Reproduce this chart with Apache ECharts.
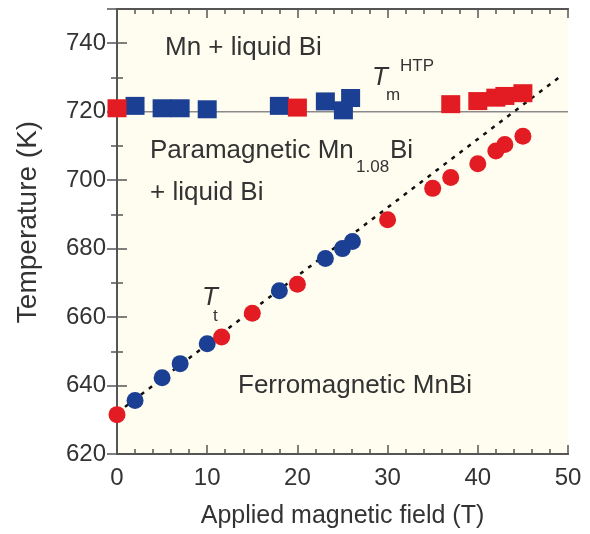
<!DOCTYPE html>
<html>
<head>
<meta charset="utf-8">
<script src="https://cdn.jsdelivr.net/npm/echarts@6/dist/echarts.min.js"></script>
<style>
  html, body { margin: 0; padding: 0; background: #ffffff; }
  #chart { width: 590px; height: 534px; }
</style>
</head>
<body>
<div id="chart"></div>
<script>
// Melting temperature T_m^HTP (squares) and transition temperature T_t (circles)
// of MnBi versus applied magnetic field; two colours mark the two measurement runs.
const squaresBlue = [[2, 721.7], [5, 721.0], [7, 721.0], [10, 720.7], [18, 721.7], [23.1, 723.0], [25.9, 724.0], [25.1, 720.4]];
const squaresRed = [[0, 721.0], [20, 721.2], [37, 722.2], [40, 723.1], [42, 724.1], [43, 724.6], [45, 725.4]];
const circlesBlue = [[2, 635.6], [5, 642.3], [7, 646.4], [10, 652.2], [18, 667.7], [23.1, 677.1], [25, 680.0], [26.1, 682.1]];
const circlesRed = [[0, 631.5], [11.6, 654.2], [15, 661.1], [20, 669.6], [30, 688.4], [35, 697.6], [37, 700.8], [40, 704.8], [42, 708.5], [43, 710.4], [45, 712.8]];
const meltLine = [[0, 720], [50, 720]];
const transitionGuide = [[0, 632], [49, 730]];

const xTicks = [0, 10, 20, 30, 40, 50];
const yTicks = [620, 640, 660, 680, 700, 720, 740];

const BLUE = '#1b3f92';
const RED = '#e31b23';
const FRAME = '#555555';
const TEXT = '#333333';
const FONT = 'Liberation Sans, Arial, Helvetica, sans-serif';

const chart = echarts.init(document.getElementById('chart'), null, { renderer: 'canvas' });

function xAxisDef(pos, step, len, labels) {
  return {
    type: 'value', position: pos, min: 0, max: 50, interval: step,
    axisLine: { show: true, lineStyle: { color: FRAME, width: 2 } },
    axisTick: { show: true, inside: true, length: len, lineStyle: { color: FRAME, width: 1.5 } },
    axisLabel: labels ? {
      show: true, fontSize: 24, color: TEXT, fontFamily: FONT, margin: 12,
      formatter: v => (xTicks.includes(v) ? String(v) : '')
    } : { show: false },
    splitLine: { show: false },
    name: labels ? 'Applied magnetic field (T)' : '',
    nameLocation: 'middle', nameGap: 50,
    nameTextStyle: { fontSize: 25, color: TEXT, fontFamily: FONT }
  };
}
function yAxisDef(pos, step, len, labels) {
  return {
    type: 'value', position: pos, min: 620, max: 750, interval: step,
    axisLine: { show: true, lineStyle: { color: FRAME, width: 2 } },
    axisTick: { show: true, inside: true, length: len, lineStyle: { color: FRAME, width: 1.5 } },
    axisLabel: labels ? {
      show: true, fontSize: 24, color: TEXT, fontFamily: FONT, margin: 11,
      formatter: v => (yTicks.includes(v) ? String(v) : '')
    } : { show: false },
    splitLine: { show: false }
  };
}

const grid = { left: 117, right: 22, top: 9, bottom: 76, show: true, backgroundColor: '#fffdf0', borderWidth: 0 };

function txt(x, y, s, size, italic) {
  return {
    type: 'text', x: x, y: y, z: 100,
    style: {
      text: s, fill: TEXT, fontSize: size, fontFamily: FONT,
      fontStyle: italic ? 'italic' : 'normal',
      align: 'left', verticalAlign: 'middle'
    }
  };
}

const option = {
  animation: false,
  backgroundColor: '#ffffff',
  grid: grid,
  xAxis: [
    xAxisDef('bottom', 10, 9, true),
    xAxisDef('bottom', 2, 5, false),
    xAxisDef('top', 10, 9, false),
    xAxisDef('top', 2, 5, false)
  ],
  yAxis: [
    yAxisDef('left', 20, 10, true),
    yAxisDef('left', 10, 6, false),
    yAxisDef('right', 20, 10, false),
    yAxisDef('right', 10, 6, false)
  ],
  series: [
    {
      type: 'line', data: meltLine, symbol: 'none', silent: true, z: 1,
      lineStyle: { color: '#8a8a8a', width: 1.5 }
    },
    {
      type: 'line', data: transitionGuide, symbol: 'none', silent: true, z: 1,
      lineStyle: { color: '#111111', width: 2.5, type: [4, 6] }
    },
    { type: 'scatter', data: squaresBlue, symbol: 'rect', symbolSize: [19, 18], itemStyle: { color: BLUE, opacity: 1 }, z: 3 },
    { type: 'scatter', data: squaresRed, symbol: 'rect', symbolSize: [19, 18], itemStyle: { color: RED, opacity: 1 }, z: 3 },
    { type: 'scatter', data: circlesBlue, symbol: 'circle', symbolSize: 17, itemStyle: { color: BLUE, opacity: 1 }, z: 3 },
    { type: 'scatter', data: circlesRed, symbol: 'circle', symbolSize: 17, itemStyle: { color: RED, opacity: 1 }, z: 3 }
  ],
  graphic: [
    {
      type: 'text', x: 28, y: 222, rotation: Math.PI / 2, z: 100,
      style: {
        text: 'Temperature (K)', fill: TEXT, fontSize: 28, fontFamily: FONT,
        align: 'center', verticalAlign: 'middle'
      }
    },
    txt(165, 48, 'Mn + liquid Bi', 26),
    txt(372, 78, 'T', 26, true),
    txt(386, 95, 'm', 17),
    txt(400, 66, 'HTP', 17),
    txt(150, 151, 'Paramagnetic Mn', 26),
    txt(356, 167, '1.08', 17),
    txt(390, 151, 'Bi', 26),
    txt(150, 193, '+ liquid Bi', 26),
    txt(202, 298, 'T', 26, true),
    txt(213, 316, 't', 17),
    txt(238, 386, 'Ferromagnetic MnBi', 26)
  ]
};

chart.setOption(option);
</script>
</body>
</html>
